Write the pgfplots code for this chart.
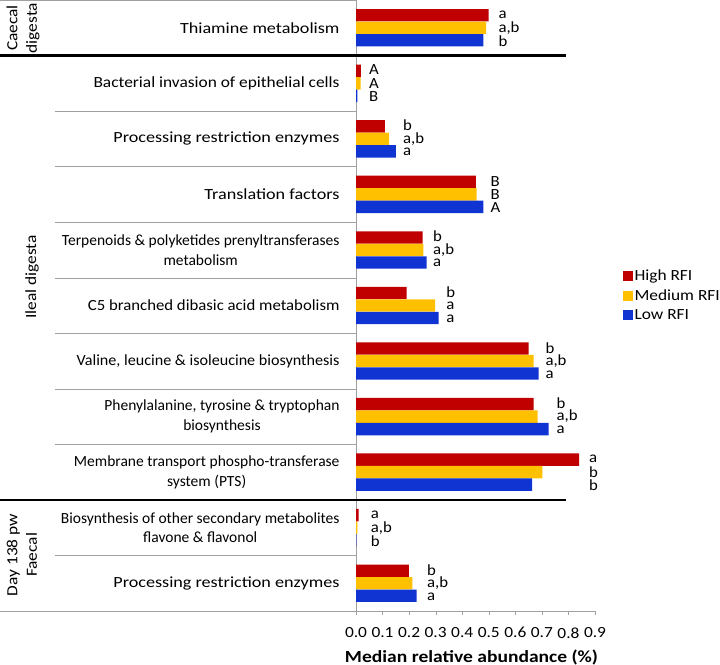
\documentclass[border=0pt]{standalone}
\usepackage{fontspec}
\setmainfont{Carlito}
\newfontfamily\sA{Carlito}[FakeStretch=1.17]
\newfontfamily\sB{Carlito}[FakeStretch=1.08]
\newfontfamily\sC{Carlito}[FakeStretch=1.04]
\newfontfamily\sD{Carlito}[FakeStretch=1.12]
\newfontfamily\sT{Carlito}[FakeStretch=1.15]
\usepackage{pgfplots}
\pgfplotsset{compat=1.18}
\definecolor{hired}{RGB}{192,0,0}
\definecolor{medyel}{RGB}{255,192,0}
\definecolor{lowblue}{RGB}{16,52,210}
\definecolor{axisgrey}{RGB}{160,160,160}
\newcommand{\fs}{\fontsize{15.5bp}{19.5bp}\selectfont}

\begin{document}
\begin{tikzpicture}[font=\fs]
\useasboundingbox (0,0) rectangle (720bp,665bp);
\begin{axis}[
  at={(356bp,54bp)}, anchor=south west,
  scale only axis, width=239bp, height=611bp,
  xmin=0, xmax=0.9, ymin=-0.5, ymax=10.5,
  axis x line=bottom, axis y line=left,
  axis line style={draw=axisgrey, -},
  xtick={0,0.1,0.2,0.3,0.4,0.5,0.6,0.7,0.8,0.9},
  tick align=outside,
  major tick length=4bp,
  xtick style={draw=axisgrey},
  ytick={0,1,2,3,4,5,6,7,8,9,10},
  ytick style={draw=none},
  yticklabels={
    {\sA Processing restriction enzymes},
    {Biosynthesis of other secondary metabolites\\flavone \& flavonol},
    {Membrane transport phospho-transferase\\system (PTS)},
    {Phenylalanine, tyrosine \& tryptophan\\biosynthesis},
    {\sC Valine, leucine \& isoleucine biosynthesis},
    {\sB C5 branched dibasic acid metabolism},
    {Terpenoids \& polyketides prenyltransferases\\metabolism},
    {\sA Translation factors},
    {\sA Processing restriction enzymes},
    {\sD Bacterial invasion of epithelial cells},
    {\sA Thiamine metabolism}},
  yticklabel style={align=center, font=\fs, xshift=-9bp},
  xticklabel style={font=\fs\sD, yshift=-9bp, /pgf/number format/.cd, fixed, fixed zerofill, precision=1, assume math mode=true},
  xlabel={\sT\bfseries Median relative abundance (\%)},
  xlabel style={font=\fontsize{17bp}{20bp}\selectfont, at={(axis description cs:0.5,0)}, anchor=center, yshift=-46bp, xshift=-4bp},
  clip=false,
  legend style={draw=none, fill=none, at={(1.117,0.517)}, anchor=west, font=\fs\sD, row sep=3.5bp, inner sep=0pt},
  legend cell align=left,
]
\addlegendimage{legend image code/.code={\fill[hired] (0bp,-4.5bp) rectangle (9bp,4.5bp);}}
\addlegendentry{High RFI}
\addlegendimage{legend image code/.code={\fill[medyel] (0bp,-4.5bp) rectangle (9bp,4.5bp);}}
\addlegendentry{Medium RFI}
\addlegendimage{legend image code/.code={\fill[lowblue] (0bp,-4.5bp) rectangle (9bp,4.5bp);}}
\addlegendentry{Low RFI}

% High RFI
\addplot[xbar, bar width=0.223, bar shift=0.225, fill=hired, draw=none, forget plot] coordinates {
 (0.199,0) (0.010,1) (0.840,2) (0.669,3) (0.650,4) (0.191,5) (0.251,6) (0.451,7) (0.109,8) (0.018,9) (0.499,10)};
% Medium RFI
\addplot[xbar, bar width=0.223, bar shift=0, fill=medyel, draw=none, forget plot] coordinates {
 (0.212,0) (0.005,1) (0.702,2) (0.684,3) (0.669,4) (0.298,5) (0.254,6) (0.454,7) (0.125,8) (0.017,9) (0.490,10)};
% Low RFI
\addplot[xbar, bar width=0.223, bar shift=-0.225, fill=lowblue, draw=none, forget plot] coordinates {
 (0.228,0) (0.001,1) (0.663,2) (0.725,3) (0.688,4) (0.311,5) (0.266,6) (0.480,7) (0.150,8) (0.005,9) (0.480,10)};

% significance letters
\addplot[draw=none, mark=none, forget plot, nodes near coords, point meta=explicit symbolic,
  every node near coord/.append style={anchor=west, inner sep=0pt, font=\fs\sB}] table[meta=lab] {
x y lab
0.536 10.24 a
0.536 10 a,b
0.536 9.76 b
0.049 9.24 A
0.049 9 A
0.049 8.76 B
0.177 8.24 b
0.177 8 a,b
0.177 7.76 a
0.506 7.24 B
0.506 7 B
0.506 6.76 A
0.290 6.24 b
0.290 6 a,b
0.290 5.76 a
0.340 5.24 b
0.340 5 a
0.340 4.76 a
0.713 4.24 b
0.713 4 a,b
0.713 3.76 a
0.755 3.24 b
0.755 3 a,b
0.755 2.76 a
0.877 2.24 a
0.877 2 b
0.877 1.76 b
0.055 1.24 a
0.055 1 a,b
0.055 0.76 b
0.267 0.24 b
0.267 0 a,b
0.267 -0.24 a
};

% frame lines of the category area
\draw[axisgrey] ([xshift=-356bp]axis cs:0,10.5) -- (axis cs:0,10.5);
\draw[axisgrey] ([xshift=-356bp]axis cs:0,-0.5) -- (axis cs:0,-0.5);
\pgfplotsinvokeforeach{8.5,7.5,6.5,5.5,4.5,3.5,2.5,0.5}{
  \draw[axisgrey] ([xshift=-301bp]axis cs:0,#1) -- (axis cs:0,#1);
}
\draw[black, line width=2.2bp] ([xshift=-356bp]axis cs:0,9.5) -- (axis cs:0.792,9.5);
\draw[black, line width=2.2bp] ([xshift=-356bp]axis cs:0,1.5) -- (axis cs:0.790,1.5);
\end{axis}
\node[rotate=90, align=center, font=\fs\sD] at (23bp,637bp) {Caecal\\digesta};
\node[rotate=90, font=\fs\sD] at (32bp,388bp) {Ileal digesta};
\node[rotate=90, align=center, font=\fs\sD] at (22bp,110bp) {Day 138 pw\\Faecal};
\end{tikzpicture}
\end{document}
